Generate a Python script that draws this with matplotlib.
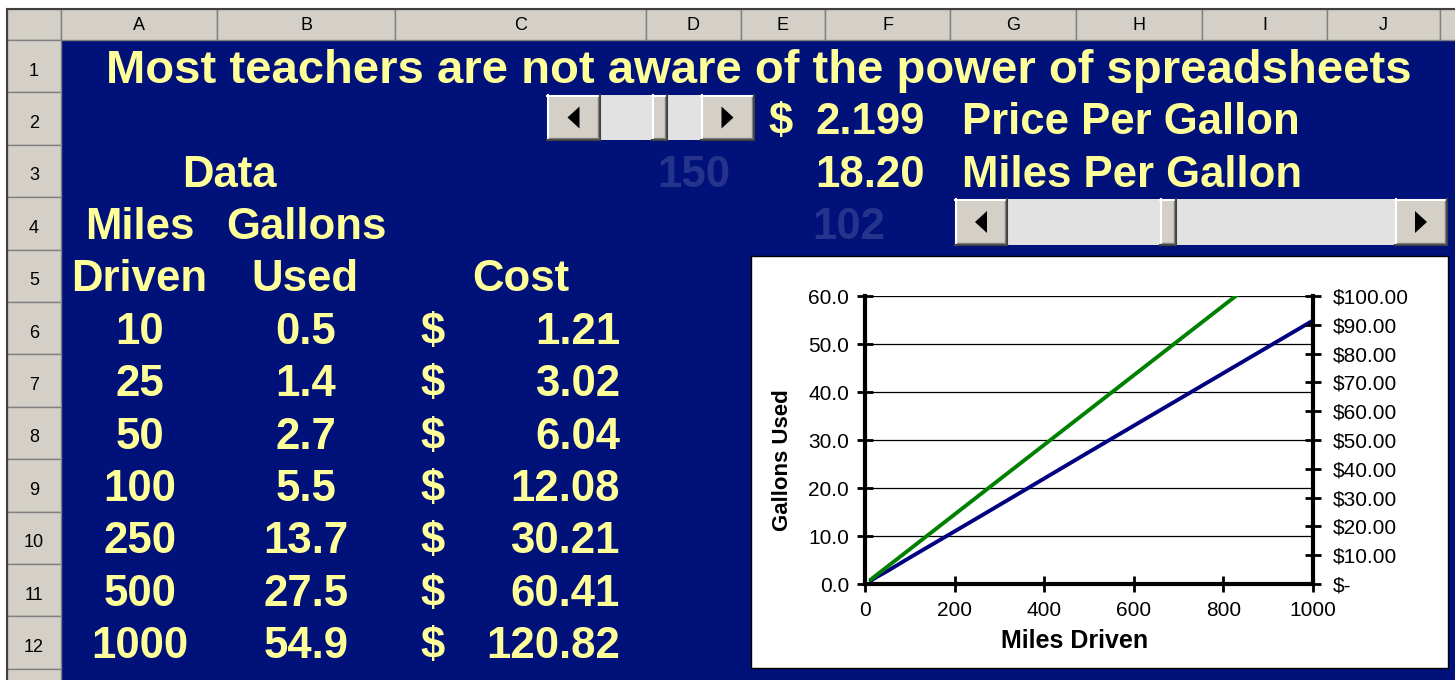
import matplotlib.pyplot as plt
from matplotlib.patches import Rectangle, Polygon
from matplotlib.ticker import FuncFormatter

# sheet data
miles = [10, 25, 50, 100, 250, 500, 1000]
gallons = [0.5, 1.4, 2.7, 5.5, 13.7, 27.5, 54.9]
cost = [1.21, 3.02, 6.04, 12.08, 30.21, 60.41, 120.82]
price_per_gallon = 2.199
miles_per_gallon = 18.20
scroll_values = [150, 102]
col_letters = ["A", "B", "C", "D", "E", "F", "G", "H", "I", "J"]
row_numbers = list(range(1, 14))
title = "Most teachers are not aware of the power of spreadsheets"

gallon_ticks = [0, 10, 20, 30, 40, 50, 60]
cost_ticks = [0, 10, 20, 30, 40, 50, 60, 70, 80, 90, 100]
mile_ticks = [0, 200, 400, 600, 800, 1000]

W, H = 1455, 680
YELLOW = "#FFFF99"
SHEET_BLUE = "#00117A"
FAINT = "#26338C"
GRAY = "#D4D0C8"

plt.rcParams['font.family'] = ['Liberation Sans', 'DejaVu Sans']

col_edges = [61, 217, 395, 646, 741, 825, 950, 1076, 1202, 1327, 1440, 1470]
ROW_TOP = 40
ROW_H = 52.4
BODY = 31.5


def row_center(r):
    return ROW_TOP + ROW_H * (r - 0.5)


fig = plt.figure(figsize=(W / 100, H / 100), dpi=100)
bg = fig.add_axes([0, 0, 1, 1])
bg.set_xlim(0, W)
bg.set_ylim(H, 0)
bg.axis('off')


def cell_text(x, r, s, size=BODY, ha='center', color=YELLOW, weight='bold'):
    # put the baseline so the digits/caps sit centred in the row
    em = size * 100 / 72
    bg.text(x, row_center(r) + 0.358 * em, s, ha=ha, va='baseline',
            fontsize=size, color=color, fontweight=weight)


def button(x, y, w, h):
    bg.add_patch(Rectangle((x, y), w, h, fc=GRAY, ec='none'))
    bg.plot([x, x + w], [y + 0.5, y + 0.5], color='white', lw=1.5)
    bg.plot([x + 0.5, x + 0.5], [y, y + h], color='white', lw=1.5)
    bg.plot([x, x + w], [y + h - 0.5, y + h - 0.5], color='#404040', lw=1.5)
    bg.plot([x + w - 0.5, x + w - 0.5], [y, y + h], color='#404040', lw=1.5)
    bg.plot([x + 2, x + w - 2], [y + h - 2.5, y + h - 2.5], color='#808080', lw=1)
    bg.plot([x + w - 2.5, x + w - 2.5], [y + 2, y + h - 2], color='#808080', lw=1)


def scrollbar(x0, x1, y0, y1, btn_w, thumb_x, thumb_w):
    h = y1 - y0
    bg.add_patch(Rectangle((x0, y0), x1 - x0, h, fc='#E2E2E2', ec='none'))
    button(x0, y0, btn_w, h)
    button(x1 - btn_w, y0, btn_w, h)
    button(thumb_x, y0, thumb_w, h)
    cy = y0 + h / 2
    cx = x0 + btn_w / 2
    bg.add_patch(Polygon([[cx - 6, cy], [cx + 6, cy - 11], [cx + 6, cy + 11]], fc='black', ec='none'))
    cx = x1 - btn_w / 2
    bg.add_patch(Polygon([[cx + 6, cy], [cx - 6, cy - 11], [cx - 6, cy + 11]], fc='black', ec='none'))


# sheet body and headers
bg.add_patch(Rectangle((61, 40), W - 61, H - 40, fc=SHEET_BLUE, ec='none'))
bg.add_patch(Rectangle((7, 9), 54, 31, fc=GRAY, ec='#808080', lw=1))
for i in range(len(col_edges) - 1):
    x0, x1 = col_edges[i], col_edges[i + 1]
    bg.add_patch(Rectangle((x0, 9), x1 - x0, 31, fc=GRAY, ec='#808080', lw=1))
    if i < len(col_letters):
        bg.text((x0 + x1) / 2, 25, col_letters[i], ha='center', va='center',
                fontsize=13, color='black')
for r in row_numbers:
    y0 = ROW_TOP + ROW_H * (r - 1)
    bg.add_patch(Rectangle((7, y0), 54, ROW_H, fc=GRAY, ec='#808080', lw=1))
    if r <= 12:
        bg.text(34, row_center(r) + 5, str(r), ha='center', va='center',
                fontsize=13, color='black')
bg.plot([7, 7], [9, H], color='#404040', lw=1.5)
bg.plot([7, W], [9, 9], color='#404040', lw=1.5)

# row 1 title
cell_text(759, 1, title, size=34)

# rows 2-4: controls
scrollbar(547, 754, 95, 140, 53, 652, 15)
cell_text(768, 2, "$", ha='left')
cell_text(925, 2, f"{price_per_gallon:.3f}", ha='right')
cell_text(962, 2, "Price Per Gallon", ha='left')

cell_text(229, 3, "Data")
cell_text(730, 3, str(scroll_values[0]), ha='right', color=FAINT)
cell_text(925, 3, f"{miles_per_gallon:.2f}", ha='right')
cell_text(962, 3, "Miles Per Gallon", ha='left')

cell_text(140, 4, "Miles")
cell_text(306, 4, "Gallons")
cell_text(812, 4, str(scroll_values[1]), ha='left', color=FAINT)
scrollbar(955, 1447, 199, 245, 52, 1160, 16)

# table
cell_text(139, 5, "Driven")
cell_text(305, 5, "Used")
cell_text(521, 5, "Cost")
for i in range(len(miles)):
    r = 6 + i
    cell_text(140, r, str(miles[i]))
    cell_text(306, r, f"{gallons[i]:.1f}")
    cell_text(420, r, "$", ha='left')
    cell_text(620, r, f"{cost[i]:.2f}", ha='right')

# chart box
bg.add_patch(Rectangle((751, 256), 697, 412, fc='white', ec='black', lw=1))

ax_l, ax_r, ax_t, ax_b = 865, 1313, 296, 584
ax = fig.add_axes([ax_l / W, 1 - ax_b / H, (ax_r - ax_l) / W, (ax_b - ax_t) / H])
ax.set_facecolor('none')
ax.plot(miles, gallons, color='#000080', lw=2.8, solid_capstyle='butt')
ax.set_xlim(0, 1000)
ax.set_ylim(0, 60)
ax.set_xticks(mile_ticks)
ax.set_yticks(gallon_ticks)
ax.yaxis.set_major_formatter(FuncFormatter(lambda v, p: f"{v:.1f}"))
ax.yaxis.grid(True, color='black', lw=0.9)
ax.spines['top'].set_visible(False)
ax.spines['right'].set_visible(False)
ax.spines['left'].set_linewidth(3)
ax.spines['bottom'].set_linewidth(3)
ax.tick_params(axis='y', direction='inout', length=11, width=2, labelsize=15, pad=6)
ax.tick_params(axis='x', direction='inout', length=11, width=2, labelsize=15, pad=7)
ax.set_xlabel("Miles Driven", fontsize=18, fontweight='bold', va='center')
ax.xaxis.set_label_coords((1075 - ax_l) / (ax_r - ax_l), (ax_b - 641) / (ax_b - ax_t))
ax.set_ylabel("Gallons Used", fontsize=16, fontweight='bold', va='center')
ax.yaxis.set_label_coords((783 - ax_l) / (ax_r - ax_l), (ax_b - 460) / (ax_b - ax_t))

ax2 = ax.twinx()
ax2.plot(miles, cost, color='#008000', lw=2.8, solid_capstyle='butt')
ax2.set_ylim(0, 100)
ax2.set_yticks(cost_ticks)
ax2.yaxis.set_major_formatter(FuncFormatter(lambda v, p: "$-" if v == 0 else f"${v:.2f}"))
for s in ['top', 'left', 'bottom']:
    ax2.spines[s].set_visible(False)
ax2.spines['right'].set_linewidth(3)
ax2.tick_params(axis='y', direction='inout', length=12, width=2, labelsize=15, pad=8)

fig.savefig("out.png", dpi=100)
